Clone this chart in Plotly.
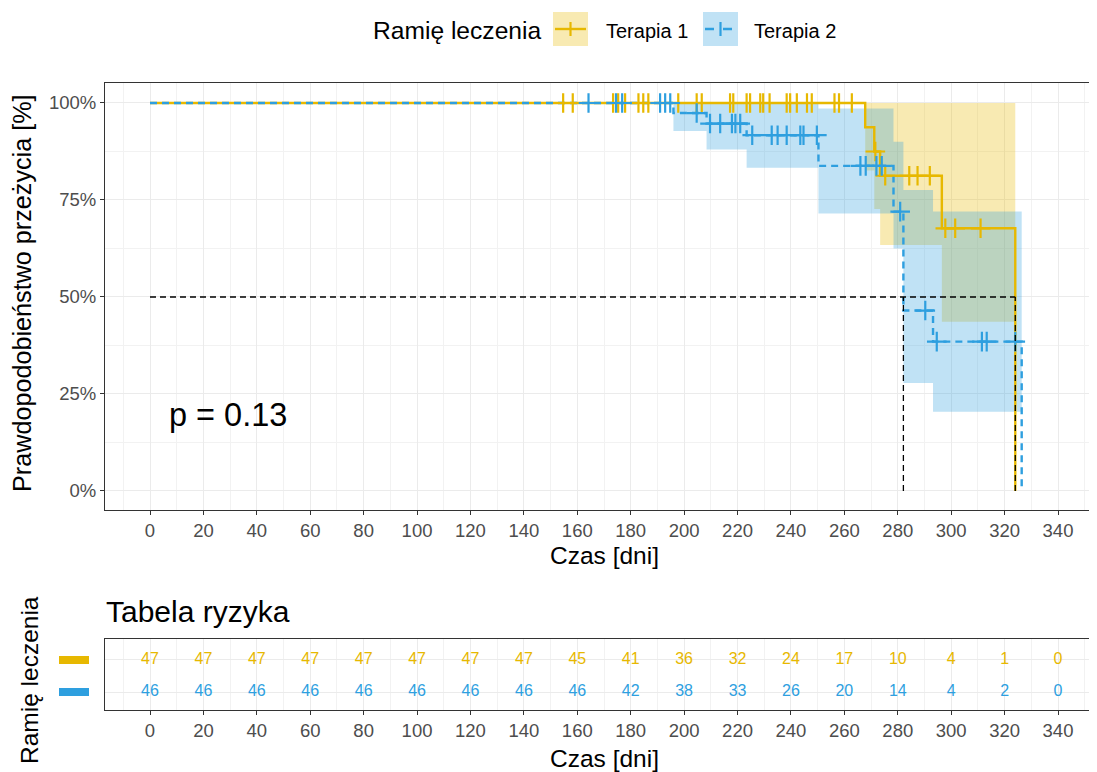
import bisect
import plotly.graph_objects as go

# ---------------- data ----------------
arms = ["Terapia 1", "Terapia 2"]
colors = ["#E7B800", "#2E9FDF"]
bands = ["rgba(231,184,0,0.3)", "rgba(46,159,223,0.3)"]

# Kaplan-Meier steps
t1_time = [0, 267.8, 271.2, 273.4, 296.5, 324.0]
t1_surv = [1.0, 0.9375, 0.875, 0.8125, 0.677, 0.0]
t2_time = [0, 196.0, 208.4, 223.4, 250.3, 278.4, 282.1, 293.2, 326.4]
t2_surv = [1.0, 0.974, 0.947, 0.917, 0.838, 0.72, 0.465, 0.385, 0.0]

# confidence bands (step start times, lower, upper)
t1_ci_time = [267.8, 271.2, 273.4, 296.5, 324.0]
t1_ci_low = [0.826, 0.727, 0.634, 0.436, 0.436]
t1_ci_up = [1.0, 1.0, 1.0, 1.0, 1.0]
t2_ci_time = [196.0, 208.4, 223.4, 250.3, 278.4, 282.1, 293.2, 326.4]
t2_ci_low = [0.928, 0.880, 0.833, 0.715, 0.625, 0.278, 0.204, 0.204]
t2_ci_up = [1.0, 1.0, 1.0, 0.986, 0.90, 0.776, 0.72, 0.72]

# censoring times
t1_cens = [154.7, 158.3, 173.4, 175.3, 177.9, 182.9, 184.7, 186.6, 197.8, 204.7,
           206.6, 217.2, 218.4, 223.4, 224.7, 228.5, 229.6, 232.0, 238.4, 239.7,
           242.2, 246.0, 247.8, 256.3, 258.0, 262.8, 271.6, 275.3, 284.3, 287.4,
           292.0, 297.8, 301.5, 311.0]
t2_cens = [164.2, 174.5, 176.8, 191.0, 192.9, 194.8, 204.7, 209.7, 213.5, 217.9,
           219.2, 221.0, 225.5, 232.8, 235.0, 238.4, 243.5, 244.7, 249.7, 266.0,
           268.0, 272.0, 274.0, 280.9, 290.3, 294.6, 311.5, 313.3, 324.0]

medians = [324.0, 282.1]
p_text = "p = 0.13"

# risk table
risk_times = [0, 20, 40, 60, 80, 100, 120, 140, 160, 180, 200, 220, 240, 260, 280, 300, 320, 340]
risk_t1 = [47, 47, 47, 47, 47, 47, 47, 47, 45, 41, 36, 32, 24, 17, 10, 4, 1, 0]
risk_t2 = [46, 46, 46, 46, 46, 46, 46, 46, 46, 42, 38, 33, 26, 20, 14, 4, 2, 0]

y_ticks = [0, 0.25, 0.5, 0.75, 1.0]
y_ticklabels = ["0%", "25%", "50%", "75%", "100%"]

# ---------------- figure ----------------
OFF = 8  # page body margin of the html page
W, H = 1097 - OFF, 772 - OFF
FONT = "Liberation Sans, Arial, sans-serif"


def fx(px):
    return (px - OFF) / W


def fy(py):
    return 1 - (py - OFF) / H


def step_value(times, surv, t):
    i = bisect.bisect_right(times, t) - 1
    return surv[max(i, 0)]


fig = go.Figure()

# confidence bands
for tt, lo, up, fc in [(t1_ci_time, t1_ci_low, t1_ci_up, bands[0]),
                       (t2_ci_time, t2_ci_low, t2_ci_up, bands[1])]:
    fig.add_trace(go.Scatter(x=tt, y=lo, mode="lines", line=dict(width=0, shape="hv"),
                             hoverinfo="skip", showlegend=False))
    fig.add_trace(go.Scatter(x=tt, y=up, mode="lines", line=dict(width=0, shape="hv"),
                             fill="tonexty", fillcolor=fc, hoverinfo="skip", showlegend=False))

# survival curves
fig.add_trace(go.Scatter(x=t1_time, y=t1_surv, mode="lines", name=arms[0],
                         line=dict(color=colors[0], width=2.4, shape="hv"), showlegend=False))
fig.add_trace(go.Scatter(x=t2_time, y=t2_surv, mode="lines", name=arms[1],
                         line=dict(color=colors[1], width=2.4, shape="hv", dash="7px,5px"),
                         showlegend=False))

# censor marks
for cens, tt, ss, c in [(t1_cens, t1_time, t1_surv, colors[0]),
                        (t2_cens, t2_time, t2_surv, colors[1])]:
    fig.add_trace(go.Scatter(x=cens, y=[step_value(tt, ss, t) for t in cens], mode="markers",
                             marker=dict(symbol="cross-thin", size=14, color=c,
                                         line=dict(color=c, width=2.2)),
                             showlegend=False, hoverinfo="skip"))

# median lines
med_style = dict(color="black", width=1.3, dash="6px,4px")
fig.add_trace(go.Scatter(x=[0, max(medians)], y=[0.5, 0.5], mode="lines", line=med_style,
                         showlegend=False, hoverinfo="skip"))
for m in medians:
    fig.add_trace(go.Scatter(x=[m, m], y=[0, 0.5], mode="lines", line=med_style,
                             showlegend=False, hoverinfo="skip"))

# risk table text
for vals, yv, c in [(risk_t1, 2, colors[0]), (risk_t2, 1, colors[1])]:
    fig.add_trace(go.Scatter(x=risk_times, y=[yv] * len(risk_times), mode="text",
                             text=[str(v) for v in vals],
                             textfont=dict(color=c, size=16, family=FONT),
                             xaxis="x2", yaxis="y2", showlegend=False, hoverinfo="skip"))

xr = [-16.85, 353.1]
dom_x = [fx(105), fx(1093)]
grid = "#EBEBEB"
axis_common = dict(showline=True, mirror=True, linecolor="#333333", linewidth=1,
                   ticks="outside", ticklen=4, tickcolor="#333333", tickwidth=1,
                   gridcolor=grid, gridwidth=1, zeroline=False, automargin=False,
                   tickfont=dict(family=FONT, size=18.5, color="#4D4D4D"))

fig.update_layout(
    width=W, height=H, margin=dict(l=0, r=0, t=0, b=0),
    paper_bgcolor="white", plot_bgcolor="white",
    font=dict(family=FONT, color="black"),
    showlegend=False,
    xaxis=dict(domain=dom_x, range=xr, anchor="y", tickmode="linear", tick0=0, dtick=20,
               minor=dict(tick0=0, dtick=10, showgrid=True, gridcolor="#F2F2F2", gridwidth=1),
               **axis_common),
    yaxis=dict(domain=[fy(510), fy(83)], range=[-0.049, 1.0515], anchor="x",
               tickmode="array", tickvals=y_ticks, ticktext=y_ticklabels,
               minor=dict(tickmode="array", tickvals=[0.125, 0.375, 0.625, 0.875],
                          showgrid=True, gridcolor="#F2F2F2", gridwidth=1),
               **axis_common),
    xaxis2=dict(domain=dom_x, range=xr, anchor="y2", tickmode="linear", tick0=0, dtick=20,
                minor=dict(tick0=0, dtick=10, showgrid=True, gridcolor="#F2F2F2", gridwidth=1),
                **axis_common),
    yaxis2=dict(domain=[fy(710), fy(639)], range=[0.45, 2.65], anchor="x2",
                tickmode="array", tickvals=[1, 2], showticklabels=False,
                showline=True, mirror=True, linecolor="#333333", linewidth=1,
                ticks="", gridcolor=grid, zeroline=False, automargin=False),
)

ann = []
ann.append(dict(text=p_text, x=6.5, y=0.196, xref="x", yref="y", xanchor="left",
                yanchor="middle", showarrow=False, font=dict(size=32.5, family=FONT, color="black")))
ann.append(dict(text="Prawdopodobieństwo przeżycia [%]", x=fx(22), y=fy(293), xref="paper",
                yref="paper", textangle=-90, showarrow=False, xanchor="center", yanchor="middle",
                font=dict(size=25.2, family=FONT, color="black")))
ann.append(dict(text="Czas [dni]", x=fx(604), y=fy(555), xref="paper", yref="paper",
                showarrow=False, xanchor="center", yanchor="middle",
                font=dict(size=24.5, family=FONT, color="black")))
ann.append(dict(text="Czas [dni]", x=fx(604), y=fy(758), xref="paper", yref="paper",
                showarrow=False, xanchor="center", yanchor="middle",
                font=dict(size=24.5, family=FONT, color="black")))
ann.append(dict(text="Tabela ryzyka", x=fx(104), y=fy(611), xref="paper", yref="paper",
                showarrow=False, xanchor="left", yanchor="middle",
                font=dict(size=30, family=FONT, color="black")))
ann.append(dict(text="Ramię leczenia", x=fx(29), y=fy(680), xref="paper", yref="paper",
                textangle=-90, showarrow=False, xanchor="center", yanchor="middle",
                font=dict(size=24.5, family=FONT, color="black")))
# legend texts
ann.append(dict(text="Ramię leczenia", x=fx(371), y=fy(31), xref="paper", yref="paper",
                showarrow=False, xanchor="left", yanchor="middle",
                font=dict(size=24.6, family=FONT, color="black")))
ann.append(dict(text=arms[0], x=fx(604), y=fy(31), xref="paper", yref="paper",
                showarrow=False, xanchor="left", yanchor="middle",
                font=dict(size=20, family=FONT, color="black")))
ann.append(dict(text=arms[1], x=fx(752), y=fy(31), xref="paper", yref="paper",
                showarrow=False, xanchor="left", yanchor="middle",
                font=dict(size=20, family=FONT, color="black")))
fig.update_layout(annotations=ann)

shapes = []
for x0, c, fc, dash in [(553, colors[0], bands[0], "solid"), (703, colors[1], bands[1], "dash")]:
    shapes.append(dict(type="rect", xref="paper", yref="paper", x0=fx(x0), x1=fx(x0 + 35),
                       y0=fy(46), y1=fy(12), fillcolor=fc, line=dict(width=0), layer="below"))
    shapes.append(dict(type="line", xref="paper", yref="paper", x0=fx(x0 + 2), x1=fx(x0 + 33),
                       y0=fy(29), y1=fy(29), line=dict(color=c, width=2.4, dash=dash)))
    shapes.append(dict(type="line", xref="paper", yref="paper", x0=fx(x0 + 17.5), x1=fx(x0 + 17.5),
                       y0=fy(22), y1=fy(36), line=dict(color=c, width=2.2)))
# risk table colour strips
for y0, c in [(656, colors[0]), (688, colors[1])]:
    shapes.append(dict(type="rect", xref="paper", yref="paper", x0=fx(59), x1=fx(89),
                       y0=fy(y0 + 8), y1=fy(y0), fillcolor=c, line=dict(width=0)))
fig.update_layout(shapes=shapes)

fig.write_html("out.html")
